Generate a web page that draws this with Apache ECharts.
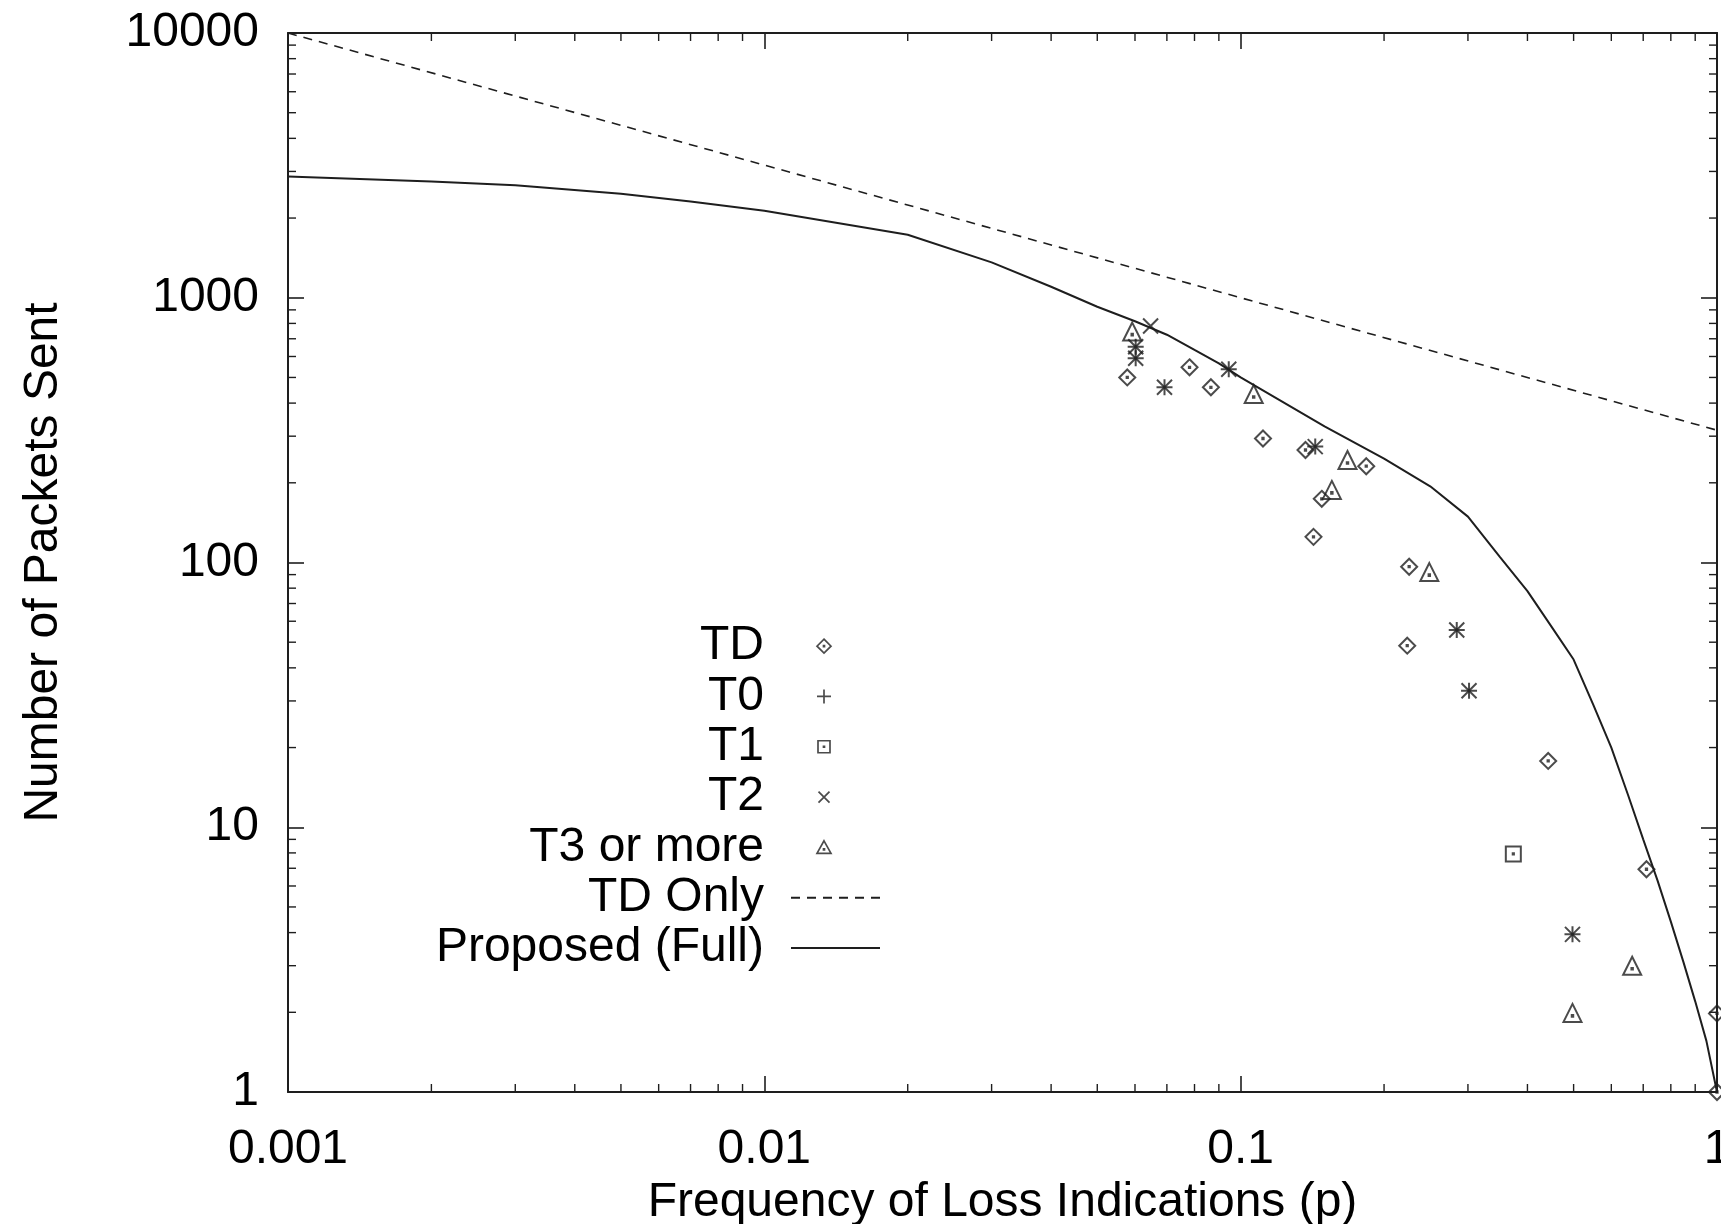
<!DOCTYPE html>
<html>
<head>
<meta charset="utf-8">
<script src="https://cdn.jsdelivr.net/npm/echarts@6/dist/echarts.min.js"></script>
<style>
html,body{margin:0;padding:0;background:#fff;overflow:hidden;}
#chart{width:1721px;height:1224px;}
</style>
</head>
<body>
<div id="chart"></div>
<script>
// ---- Data ----
const xTickLabels = [0.001, 0.01, 0.1, 1];
const yTickLabels = [1, 10, 100, 1000, 10000];
const minorMultipliers = [2, 3, 4, 5, 6, 7, 8, 9];

const tdPoints = [[0.0578, 500], [0.0781, 546], [0.0866, 459], [0.1114, 294], [0.1368, 266], [0.1835, 231],
  [0.148, 174], [0.1422, 125], [0.2258, 96.4], [0.2237, 48.5], [0.4422, 17.8], [0.7111, 6.94], [1, 1.98], [1, 1]];
const t0Points = [[0.0602, 653], [0.0602, 591], [0.0692, 459], [0.0944, 537], [0.1434, 274],
  [0.2842, 55.6], [0.3016, 32.8], [0.4973, 3.94]];
const t1Points = [[0.3736, 7.93]];
const t2Points = [[0.0647, 782], [0.0602, 653], [0.0602, 591], [0.0692, 459], [0.0944, 537], [0.1434, 274],
  [0.2842, 55.6], [0.3016, 32.8], [0.4973, 3.94]];
const t3Points = [[0.0592, 745], [0.1065, 433], [0.1676, 244], [0.1554, 188], [0.2489, 92], [0.6636, 3], [0.4973, 1.99]];

const tdOnlyP = [0.001, 0.01, 0.1, 1];
const tdOnlyN = [10000, 3170, 1000, 316];

const fullP = [0.001, 0.002, 0.003, 0.005, 0.007, 0.01, 0.02, 0.03, 0.04, 0.05, 0.06, 0.07, 0.08, 0.09, 0.1,
  0.15, 0.2, 0.25, 0.3, 0.35, 0.4, 0.45, 0.5, 0.55, 0.6, 0.65, 0.7, 0.75, 0.8, 0.85, 0.9, 0.95, 1];
const fullN = [2870, 2750, 2660, 2470, 2310, 2130, 1730, 1360, 1100, 925, 815, 725, 635, 565, 500,
  327, 247, 194, 149, 105, 78, 57, 43, 29, 20, 13.3, 9, 6.3, 4.4, 3.1, 2.2, 1.56, 1];

// ---- Helpers ----
function minorTicks(majors) {
  const out = [];
  for (let i = 0; i < majors.length - 1; i++) {
    minorMultipliers.forEach(m => out.push(majors[i] * m));
  }
  return out;
}
const xMinor = minorTicks(xTickLabels);
const yMinor = minorTicks(yTickLabels);

const FONT = "'Liberation Sans', Arial, Helvetica, sans-serif";
const INK = '#1e1e1e';
const FS = 48;

const DOT = ' M4.6,4.6 L5.4,4.6 L5.4,5.4 L4.6,5.4 Z';
const SYM = {
  diamond: 'path://M5,0 L10,5 L5,10 L0,5 Z' + DOT,
  plus: 'path://M0,5 L10,5 M5,0 L5,10',
  square: 'path://M0,0 L10,0 L10,10 L0,10 Z' + DOT,
  cross: 'path://M0,0 L10,10 M10,0 L0,10',
  triangle: 'path://M5,0 L10,9 L0,9 Z M4.6,5.6 L5.4,5.6 L5.4,6.4 L4.6,6.4 Z'
};
// legend icons: drawn inside the 89x16 legend box, marker centred 33px from its left
const FRAME = 'path://M0,0 M89,16 ';
const CDOT = ' M32.5,7.5 L33.5,7.5 L33.5,8.5 L32.5,8.5 Z';
const LEG = {
  diamond: FRAME + 'M33,1 L40,8 L33,15 L26,8 Z' + CDOT,
  plus: FRAME + 'M26,8 L40,8 M33,1 L33,15',
  square: FRAME + 'M27,2 L39,2 L39,14 L27,14 Z' + CDOT,
  cross: FRAME + 'M27.5,2.5 L38.5,13.5 M38.5,2.5 L27.5,13.5',
  triangle: FRAME + 'M33,1.5 L40,14 L26,14 Z M32.5,9.5 L33.5,9.5 L33.5,10.5 L32.5,10.5 Z'
};

function scatterSeries(name, data, symbol, size) {
  return {
    name, type: 'scatter', data, symbol, symbolSize: size,
    xAxisIndex: 0, yAxisIndex: 0, clip: false,
    itemStyle: { color: 'rgba(0,0,0,0)', borderColor: INK, borderWidth: 2 },
    emphasis: { disabled: true }, z: 5
  };
}

function axisCommon() {
  return {
    type: 'log', logBase: 10,
    axisLine: { show: true, lineStyle: { color: INK, width: 2 } },
    axisTick: { show: true, inside: true, length: 16, lineStyle: { color: INK, width: 1.6 } },
    splitLine: { show: false },
    minorTick: { show: false }
  };
}

const chart = echarts.init(document.getElementById('chart'), null, { renderer: 'canvas' });

const option = {
  animation: false,
  backgroundColor: '#fff',
  grid: { left: 288, right: 4, top: 33, bottom: 132, containLabel: false, outerBoundsMode: 'none' },
  xAxis: [
    Object.assign(axisCommon(), {
      position: 'bottom', min: xTickLabels[0], max: xTickLabels[xTickLabels.length - 1],
      name: 'Frequency of Loss Indications (p)', nameLocation: 'middle', nameGap: 82,
      nameTextStyle: { fontFamily: FONT, fontSize: FS, color: '#000' },
      axisLabel: { show: true, margin: 34, fontFamily: FONT, fontSize: FS, color: '#000',
        formatter: v => String(v) }
    }),
    Object.assign(axisCommon(), {
      position: 'top', min: xTickLabels[0], max: xTickLabels[xTickLabels.length - 1],
      axisLabel: { show: false }
    })
  ],
  yAxis: [
    Object.assign(axisCommon(), {
      position: 'left', min: yTickLabels[0], max: yTickLabels[yTickLabels.length - 1],
      name: 'Number of Packets Sent', nameLocation: 'middle', nameGap: 220, nameRotate: 90,
      nameTextStyle: { fontFamily: FONT, fontSize: FS, color: '#000' },
      axisLabel: { show: true, margin: 29, fontFamily: FONT, fontSize: FS, color: '#000',
        formatter: v => String(v) }
    }),
    Object.assign(axisCommon(), {
      position: 'right', min: yTickLabels[0], max: yTickLabels[yTickLabels.length - 1],
      axisLabel: { show: false }
    })
  ],
  legend: {
    orient: 'vertical', align: 'right', right: 840, top: 621, padding: 0, itemGap: 0,
    itemWidth: 89, itemHeight: 16, selectedMode: false, symbolKeepAspect: false,
    textStyle: { fontFamily: FONT, fontSize: FS, color: '#000', lineHeight: 50.3, padding: [0, 22, 0, 0] },
    data: [
      { name: 'TD', icon: LEG.diamond, itemStyle: { borderWidth: 1.7 } },
      { name: 'T0', icon: LEG.plus, itemStyle: { borderWidth: 1.7 } },
      { name: 'T1', icon: LEG.square, itemStyle: { borderWidth: 1.7 } },
      { name: 'T2', icon: LEG.cross, itemStyle: { borderWidth: 1.7 } },
      { name: 'T3 or more', icon: LEG.triangle, itemStyle: { borderWidth: 1.7 } },
      { name: 'TD Only', itemStyle: { opacity: 0 } },
      { name: 'Proposed (Full)', itemStyle: { opacity: 0 } }
    ]
  },
  series: [
    scatterSeries('TD', tdPoints, SYM.diamond, 16),
    scatterSeries('T0', t0Points, SYM.plus, 16),
    scatterSeries('T1', t1Points, SYM.square, 15),
    scatterSeries('T2', t2Points, SYM.cross, 15),
    scatterSeries('T3 or more', t3Points, SYM.triangle, 18),
    {
      name: 'TD Only', type: 'line', data: tdOnlyP.map((p, i) => [p, tdOnlyN[i]]),
      symbol: 'none', showSymbol: false, smooth: false, clip: true,
      lineStyle: { color: INK, width: 1.6, type: [9, 7] }, itemStyle: { color: INK }, z: 3
    },
    {
      name: 'Proposed (Full)', type: 'line', data: fullP.map((p, i) => [p, fullN[i]]),
      symbol: 'none', showSymbol: false, smooth: false, clip: true,
      lineStyle: { color: INK, width: 2 }, itemStyle: { color: INK }, z: 3
    },
    {
      // minor ticks on x (bottom + top)
      type: 'custom', xAxisIndex: 0, yAxisIndex: 0, silent: true, z: 10,
      data: xMinor.map(v => [v, yTickLabels[0]]),
      renderItem: function (params, api) {
        const x = api.coord([api.value(0), api.value(1)])[0];
        const cs = params.coordSys;
        const st = { stroke: INK, lineWidth: 1.4 };
        return { type: 'group', children: [
          { type: 'line', shape: { x1: x, y1: cs.y + cs.height, x2: x, y2: cs.y + cs.height - 8 }, style: st },
          { type: 'line', shape: { x1: x, y1: cs.y, x2: x, y2: cs.y + 8 }, style: st }
        ] };
      }
    },
    {
      // minor ticks on y (left + right)
      type: 'custom', xAxisIndex: 0, yAxisIndex: 0, silent: true, z: 10,
      data: yMinor.map(v => [xTickLabels[0], v]),
      renderItem: function (params, api) {
        const y = api.coord([api.value(0), api.value(1)])[1];
        const cs = params.coordSys;
        const st = { stroke: INK, lineWidth: 1.4 };
        return { type: 'group', children: [
          { type: 'line', shape: { x1: cs.x, y1: y, x2: cs.x + 8, y2: y }, style: st },
          { type: 'line', shape: { x1: cs.x + cs.width, y1: y, x2: cs.x + cs.width - 8, y2: y }, style: st }
        ] };
      }
    }
  ]
};
chart.setOption(option);
</script>
</body>
</html>
